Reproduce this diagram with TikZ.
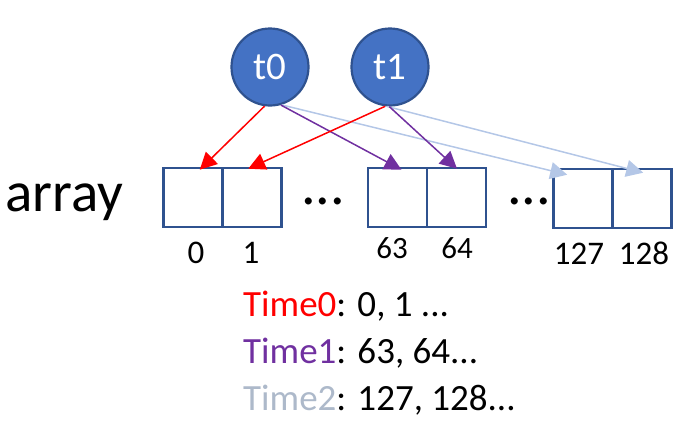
\documentclass[tikz,border=0pt]{standalone}
\usepackage{fontspec}
\setmainfont{Carlito}
\usetikzlibrary{arrows.meta}
\definecolor{cfill}{HTML}{4472C4}
\definecolor{cborder}{HTML}{2F528F}
\definecolor{cred}{HTML}{FF0000}
\definecolor{cpurple}{HTML}{7030A0}
\definecolor{clight}{HTML}{B4C7E7}
\definecolor{cgray}{HTML}{ADB9CA}
\tikzset{
  thread/.style={circle, fill=cfill, draw=cborder, line width=2.2pt, minimum size=77pt, inner sep=0pt, text=white, font=\fontsize{39}{39}\selectfont},
  cell/.style={rectangle, draw=cborder, line width=2.6pt, minimum width=59pt, minimum height=59pt, inner sep=0pt},
  idx/.style={anchor=base, inner sep=0pt, font=\fontsize{33}{33}\selectfont},
  idxs/.style={anchor=base, inner sep=0pt, font=\fontsize{31}{31}\selectfont},
  dots/.style={anchor=base, inner sep=0pt, font=\fontsize{58}{58}\selectfont},
  legend/.style={anchor=base west, inner sep=0pt, font=\fontsize{37}{37}\selectfont},
  arr/.style={line width=1.5pt, -{Triangle[length=17pt,width=17pt]}},
}
\begin{document}
\begin{tikzpicture}[x=1pt,y=-1pt]
\useasboundingbox (0,0) rectangle (686,432);
% array label
\node[anchor=base west, inner sep=0pt, font=\fontsize{57}{57}\selectfont] (arr) at (5,211) {array};
% cells
\node[cell] (c0) at (192.75,197.5) {};
\node[cell] (c1) at (252.25,197.5) {};
\node[cell] (c63) at (397.5,197.5) {};
\node[cell] (c64) at (456.5,197.5) {};
\node[cell] (c127) at (583.25,198.5) {};
\node[cell] (c128) at (641.75,198.5) {};
% dots
\node[dots] (d1) at (323,204) {...};
\node[dots] (d2) at (529,204) {...};
% indices
\node[idx] (l0) at (196,263) {0};
\node[idx] (l1) at (251,263) {1};
\node[idxs] (l63) at (392,258) {63};
\node[idxs] (l64) at (457,258) {64};
\node[idx] (l127) at (579,264) {127};
\node[idx] (l128) at (644,264) {128};
% threads
\node[thread] (t0) at (270,67) {t0};
\node[thread] (t1) at (390,67) {t1};
% arrows
\draw[arr, draw=clight] (t0.287) -- ([xshift=-16pt,yshift=-7pt]c127.north);
\draw[arr, draw=clight] (t1.266) -- ([xshift=1.5pt,yshift=-5pt]c128.north);
\draw[arr, draw=cpurple] (t0.286) -- ([xshift=4pt,yshift=-3pt]c63.north);
\draw[arr, draw=cpurple] (t1.269) -- ([xshift=0.5pt,yshift=-2pt]c64.north);
\draw[arr, draw=cred] (t0.262) -- ([xshift=7pt,yshift=-3pt]c0.north);
\draw[arr, draw=cred] (t1.263) -- ([xshift=-4pt,yshift=-2pt]c1.north);
% legend
\node[legend] (g0) at (243,316) {\textcolor{cred}{Time0}: 0, 1 ...};
\node[legend] (g1) at (243,363) {\textcolor{cpurple}{Time1}: 63, 64...};
\node[legend] (g2) at (243,410) {\textcolor{cgray}{Time2}: 127, 128...};
\end{tikzpicture}
\end{document}
